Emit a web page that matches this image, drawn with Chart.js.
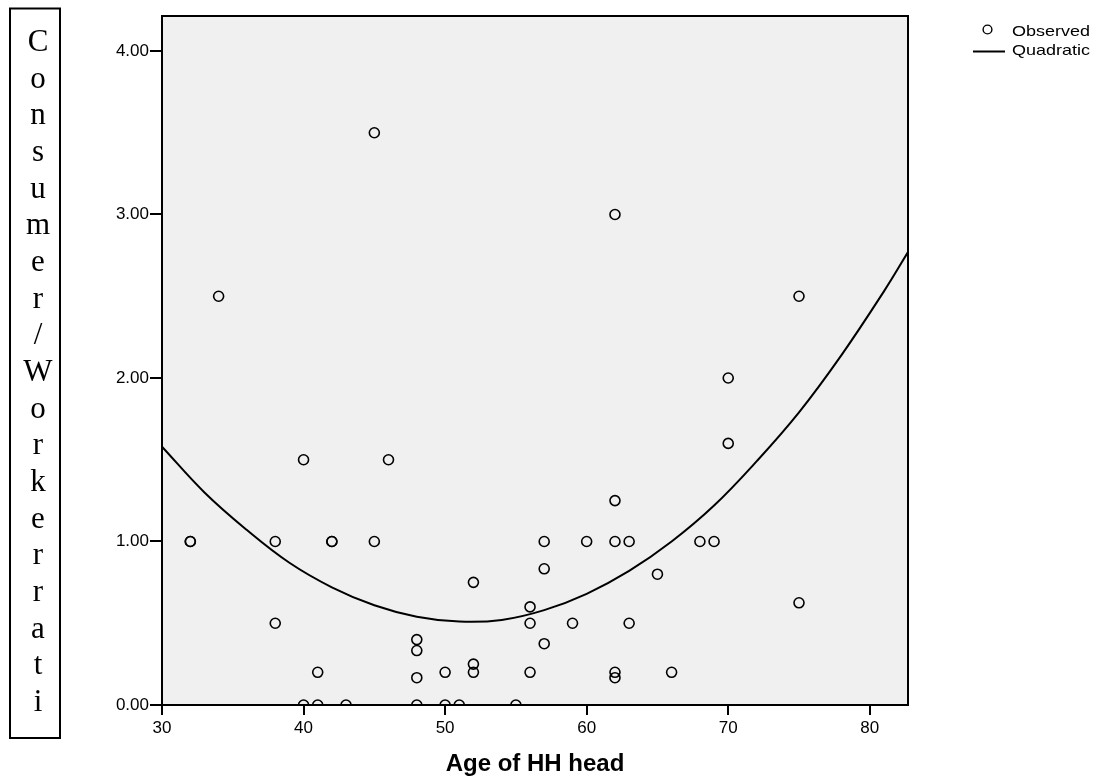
<!DOCTYPE html>
<html>
<head>
    <title>Consumer/Worker ratio by age of HH head</title>
    <script src="https://cdn.jsdelivr.net/npm/chart.js"></script>
    <style>
        body { margin: 0; background: #fff; }
    </style>
</head>
<body>
    <canvas id="myChart" width="1097" height="781"></canvas>

    <script>
        // observed points (age of HH head, consumer/worker ratio)
        var ageObs = [32, 32, 34, 38, 38, 40, 40, 41, 41, 42, 42, 43, 45, 45, 46,
                      48, 48, 48, 48, 50, 50, 51, 52, 52, 52, 55, 56, 56, 56,
                      57, 57, 57, 59, 60, 62, 62, 62, 62, 62, 63, 63, 65, 66,
                      68, 69, 70, 70, 75, 75];
        var ratioObs = [1, 1, 2.5, 1, 0.5, 1.5, 0, 0.2, 0, 1, 1, 0, 3.5, 1, 1.5,
                        0.4, 0.333, 0.167, 0, 0.2, 0, 0, 0.75, 0.25, 0.2, 0, 0.6, 0.5, 0.2,
                        1, 0.833, 0.375, 0.5, 1, 3, 1.25, 1, 0.2, 0.167, 1, 0.5, 0.8, 0.2,
                        1, 1, 2, 1.6, 2.5, 0.625];

        // quadratic fit line
        var ageFit = [30, 33, 36, 39, 42, 45, 48, 51, 54, 57, 60, 63, 66, 69, 72, 75, 78, 81, 82.7];
        var ratioFit = [1.58, 1.30, 1.07, 0.87, 0.72, 0.61, 0.54, 0.51, 0.52, 0.58, 0.68, 0.82, 1.0, 1.22, 1.49, 1.79, 2.14, 2.53, 2.77];

        var yTitle = 'Consumer/Workerrati';
        var xTitle = 'Age of HH head';
        var legendLabels = ['Observed', 'Quadratic'];

        var sans = '"Liberation Sans", Arial, sans-serif';

        var frame = {
            id: 'frame',
            beforeDatasetsDraw: function(chart) {
                var a = chart.chartArea, ctx = chart.ctx;
                ctx.save();
                ctx.fillStyle = '#f0f0f0';
                ctx.fillRect(a.left, a.top, a.right - a.left, a.bottom - a.top);
                ctx.restore();
            },
            afterDraw: function(chart) {
                var a = chart.chartArea, ctx = chart.ctx;
                ctx.save();
                ctx.strokeStyle = '#000';
                ctx.lineWidth = 2;
                ctx.strokeRect(a.left, a.top, a.right - a.left, a.bottom - a.top);

                // boxed, stacked y title
                ctx.strokeRect(10, 8.5, 50, 729.5);
                ctx.fillStyle = '#000';
                ctx.font = '31px "Liberation Serif", "Times New Roman", serif';
                ctx.textAlign = 'center';
                ctx.textBaseline = 'alphabetic';
                for (var i = 0; i < yTitle.length; i++) {
                    ctx.fillText(yTitle[i], 38, 51 + i * 36.67);
                }

                // legend
                ctx.lineWidth = 1.4;
                ctx.beginPath();
                ctx.arc(987.5, 29.5, 4.4, 0, Math.PI * 2);
                ctx.stroke();
                ctx.lineWidth = 2;
                ctx.beginPath();
                ctx.moveTo(973, 51.5);
                ctx.lineTo(1005, 51.5);
                ctx.stroke();
                ctx.font = '15px ' + sans;
                ctx.textAlign = 'left';
                ctx.translate(1012, 0);
                ctx.scale(1.2, 1);
                ctx.fillText(legendLabels[0], 0, 36);
                ctx.fillText(legendLabels[1], 0, 55);
                ctx.restore();
            }
        };

        var ctx = document.getElementById('myChart').getContext('2d');
        var myChart = new Chart(ctx, {
            type: 'scatter',
            data: {
                datasets: [{
                    label: legendLabels[0],
                    data: ageObs.map(function(x, i) { return { x: x, y: ratioObs[i] }; }),
                    borderColor: '#000',
                    backgroundColor: 'rgba(0,0,0,0)',
                    borderWidth: 1.6,
                    pointRadius: 5,
                    clip: 0
                }, {
                    type: 'line',
                    label: legendLabels[1],
                    data: ageFit.map(function(x, i) { return { x: x, y: ratioFit[i] }; }),
                    borderColor: '#000',
                    borderWidth: 2,
                    pointRadius: 0,
                    tension: 0.4,
                    fill: false,
                    clip: 0
                }]
            },
            options: {
                responsive: false,
                animation: false,
                devicePixelRatio: 1,
                layout: { padding: { left: 0, right: 189, top: 16, bottom: 0 } },
                plugins: {
                    legend: { display: false },
                    tooltip: { enabled: false }
                },
                scales: {
                    x: {
                        type: 'linear',
                        position: 'bottom',
                        min: 30,
                        max: 82.7,
                        afterFit: function(s) { s.height = 76; },
                        border: { display: false },
                        grid: { drawOnChartArea: false, color: '#000', lineWidth: 2, tickLength: 10 },
                        ticks: {
                            stepSize: 10,
                            includeBounds: false,
                            padding: 3,
                            color: '#000',
                            font: { family: sans, size: 17 }
                        },
                        title: {
                            display: true,
                            text: xTitle,
                            color: '#000',
                            padding: { top: 0, bottom: 2 },
                            font: { family: sans, size: 24, weight: 'bold' }
                        }
                    },
                    y: {
                        min: 0,
                        max: 4.214,
                        afterFit: function(s) { s.width = 162; },
                        border: { display: false },
                        grid: { drawOnChartArea: false, color: '#000', lineWidth: 2, tickLength: 12 },
                        ticks: {
                            stepSize: 1,
                            includeBounds: false,
                            padding: 1,
                            color: '#000',
                            font: { family: sans, size: 17 },
                            callback: function(v) { return v.toFixed(2); }
                        }
                    }
                }
            },
            plugins: [frame]
        });
    </script>
</body>
</html>
